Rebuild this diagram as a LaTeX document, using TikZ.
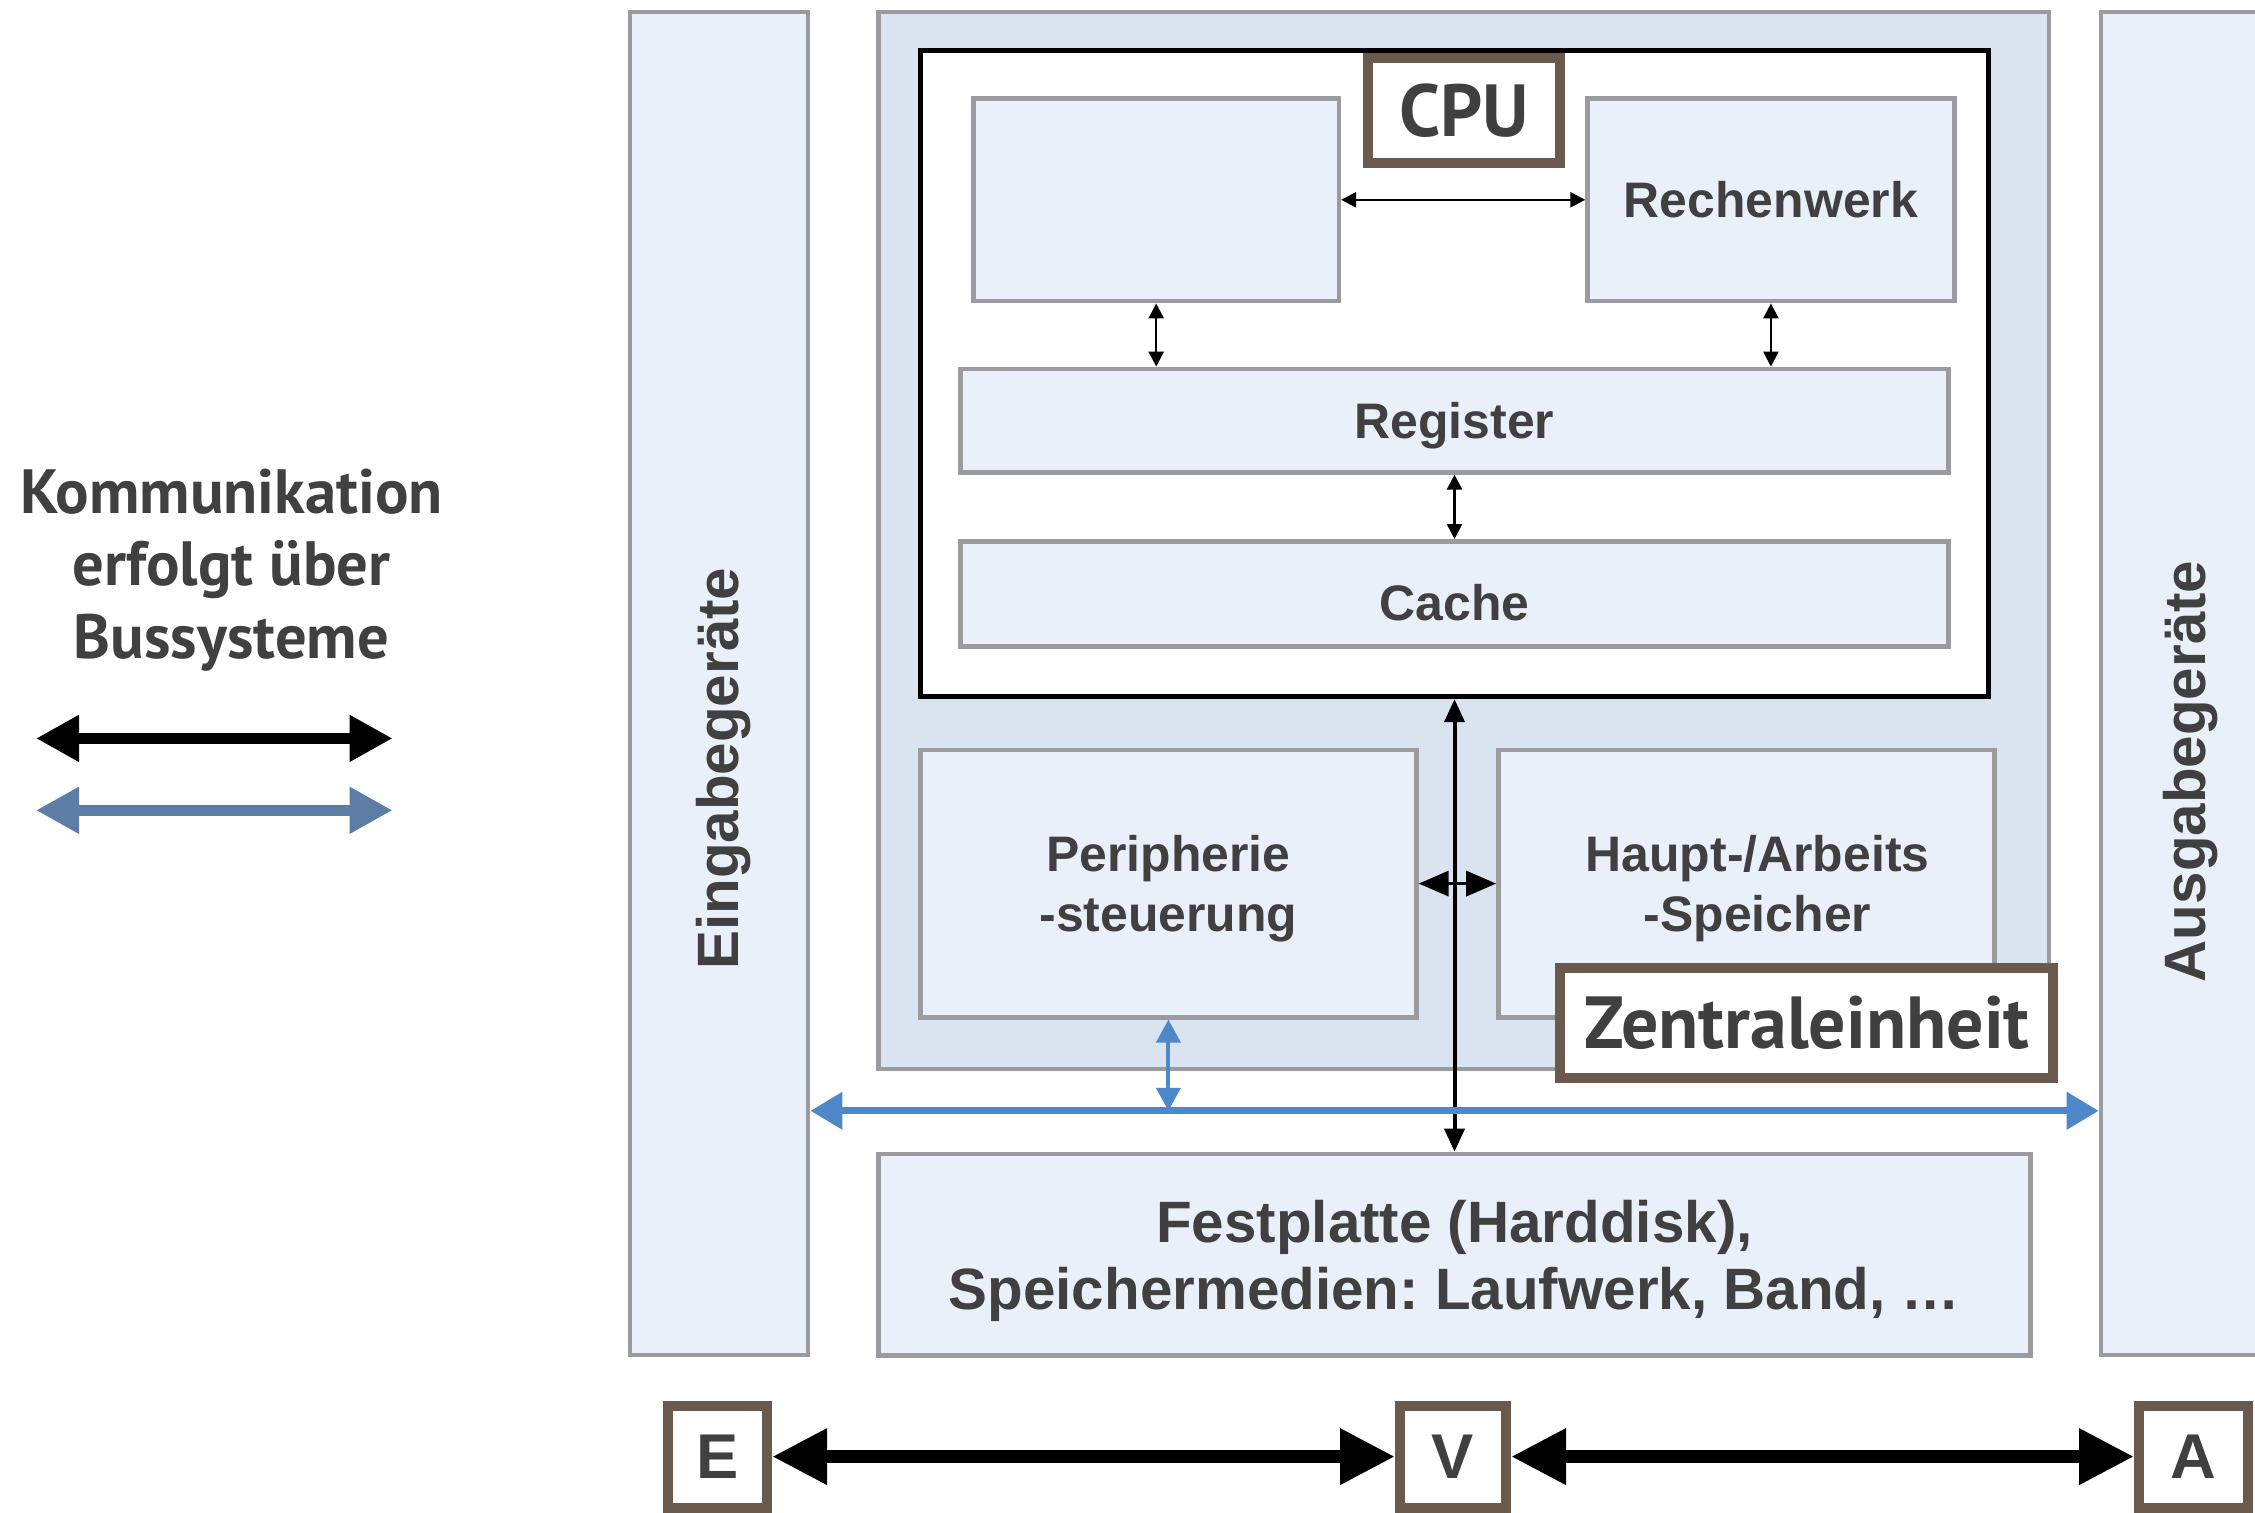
\documentclass[tikz,border=0pt]{standalone}
\usepackage{fontspec}
\setmainfont{Liberation Sans}
\newfontfamily\labelfont{PT Sans}
\usetikzlibrary{arrows.meta}
\frenchspacing

\definecolor{boxgray}{RGB}{153,155,158}
\definecolor{boxfill}{RGB}{234,240,249}
\definecolor{unitfill}{RGB}{218,227,240}
\definecolor{tagbrown}{RGB}{106,89,77}
\definecolor{textgray}{RGB}{64,64,64}
\definecolor{busblue}{RGB}{79,136,200}
\definecolor{legendblue}{RGB}{91,125,166}

\tikzset{
  unitbox/.style={draw=boxgray, line width=0.045cm, fill=boxfill, inner sep=0pt, text=textgray,
    align=center, text depth=0pt, font=\bfseries\fontsize{14.2}{17.2}\selectfont},
  tagbox/.style={draw=tagbrown, line width=0.1cm, fill=white, inner sep=0pt, text=textgray,
    font=\labelfont\bfseries\fontsize{21}{25}\selectfont},
  lettertag/.style={tagbox, font=\bfseries\fontsize{18}{20}\selectfont},
  sidetext/.style={rotate=90, text=textgray, font=\bfseries\fontsize{16.6}{19}\selectfont},
  thinlink/.style={line width=0.025cm, {Triangle[length=0.15cm,width=0.15cm]}-{Triangle[length=0.15cm,width=0.15cm]}},
  midlink/.style={line width=0.035cm, {Triangle[length=0.3cm,width=0.25cm]}-{Triangle[length=0.3cm,width=0.25cm]}},
  cpulink/.style={line width=0.04cm, {Triangle[length=0.23cm,width=0.2cm]}-{Triangle[length=0.23cm,width=0.2cm]}},
  buslink/.style={draw=busblue, line width=0.07cm, {Triangle[length=0.32cm,width=0.36cm]}-{Triangle[length=0.32cm,width=0.36cm]}},
  portlink/.style={draw=busblue, line width=0.04cm, {Triangle[length=0.23cm,width=0.24cm]}-{Triangle[length=0.23cm,width=0.24cm]}},
  biglink/.style={line width=0.13cm, {Triangle[length=0.55cm,width=0.53cm]}-{Triangle[length=0.55cm,width=0.53cm]}},
  legendlink/.style={line width=0.11cm, {Triangle[length=0.43cm,width=0.44cm]}-{Triangle[length=0.43cm,width=0.44cm]}}
}

\begin{document}
\begin{tikzpicture}
  \useasboundingbox (0,0) rectangle (22.55,15.12);

  % Legend
  \node [text=textgray, align=center, font=\labelfont\bfseries\fontsize{17.8}{20.6}\selectfont] (legend) at (2.315,9.42)
    {Kommunikation\\erfolgt über\\Bussysteme};
  \coordinate (legblackL) at (0.36,7.736);
  \coordinate (legblackR) at (3.926,7.736);
  \coordinate (legblueL) at (0.36,7.017);
  \coordinate (legblueR) at (3.926,7.017);
  \draw [legendlink] (legblackL) -- (legblackR);
  \draw [legendlink, draw=legendblue, fill=legendblue] (legblueL) -- (legblueR);

  % Input and output devices
  \node [unitbox, minimum width=1.783cm, minimum height=13.43cm] (eingabe) at (7.190,8.283) {};
  \node [sidetext] (eingabetext) at (7.233,7.434) {Eingabegeräte};
  \node [unitbox, minimum width=1.855cm, minimum height=13.43cm] (ausgabe) at (21.937,8.283) {};
  \node [sidetext] (ausgabetext) at (21.901,7.406) {Ausgabegeräte};

  % Central unit
  \node [unitbox, fill=unitfill, minimum width=11.705cm, minimum height=10.569cm] (zentrale) at (14.639,9.714) {};
  \node [draw=black, line width=0.05cm, fill=white, minimum width=10.684cm, minimum height=6.457cm] (cpu) at (14.545,11.382) {};
  \node [tagbox, minimum width=1.927cm, minimum height=1.050cm] (cputag) at (14.639,14.013) {CPU};
  \node [unitbox, minimum width=3.653cm, minimum height=2.028cm] (steuer) at (11.562,13.122) {};
  \node [unitbox, minimum width=3.667cm, minimum height=2.028cm] (rechen) at (17.709,13.122) {Rechenwerk};
  \node [unitbox, minimum width=9.879cm, minimum height=1.035cm] (register) at (14.545,10.914) {Register};
  \node [unitbox, minimum width=9.879cm, minimum height=1.050cm, text height=15.3pt] (cache) at (14.545,9.182) {Cache};
  \node [unitbox, minimum width=4.961cm, minimum height=2.675cm] (peri) at (11.684,6.284) {Peripherie\\-steuerung};
  \node [unitbox, minimum width=4.961cm, minimum height=2.675cm,
    label={[text=textgray, align=center, font=\bfseries\fontsize{14.2}{17.2}\selectfont, text depth=0pt, xshift=0.11cm]center:Haupt-/Arbeits\\-Speicher}] (haupt) at (17.465,6.284) {};
  \node [tagbox, minimum width=4.932cm, minimum height=1.093cm] (zentraltag) at (18.068,4.889) {Zentraleinheit};

  % Storage
  \node [unitbox, minimum width=11.518cm, minimum height=2.013cm, font=\bfseries\fontsize{16.6}{19.2}\selectfont] (platte) at (14.545,2.574)
    {Festplatte (Harddisk),\\Speichermedien: Laufwerk, Band, \dots};

  % Links inside the CPU
  \draw [thinlink] (steuer) -- (rechen);
  \draw [thinlink] (steuer.south) -- (steuer.south |- register.north);
  \draw [thinlink] (rechen.south) -- (rechen.south |- register.north);
  \draw [thinlink] (register) -- (cache);

  % CPU to disk, memory links
  \draw [cpulink] (cpu.south) -- (platte.north);
  \draw [midlink] (peri) -- (haupt);

  % Bus
  \coordinate (bus) at (0,4.012);
  \draw [portlink] (peri.south) -- (peri.south |- bus);
  \draw [buslink] (eingabe.east |- bus) -- (ausgabe.west |- bus);

  % E V A
  \node [lettertag, minimum width=0.99cm, minimum height=1.02cm] (e) at (7.176,0.554) {E};
  \node [lettertag, minimum width=1.06cm, minimum height=1.02cm] (v) at (14.530,0.554) {V};
  \node [lettertag, minimum width=1.09cm, minimum height=1.02cm] (a) at (21.935,0.554) {A};
  \draw [biglink] (e) -- (v);
  \draw [biglink] (v) -- (a);
\end{tikzpicture}
\end{document}
